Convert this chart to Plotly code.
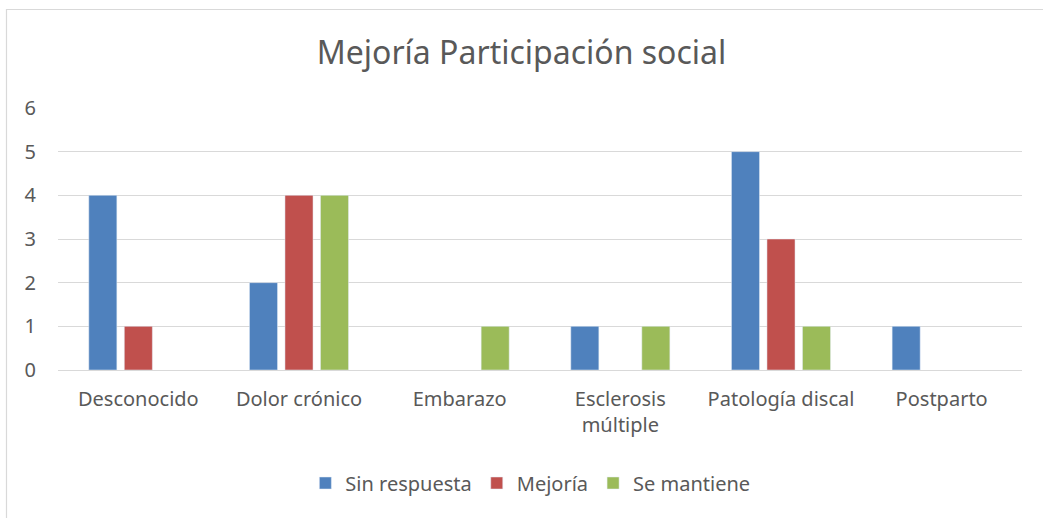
import plotly.graph_objects as go

categories = ["Desconocido", "Dolor crónico", "Embarazo", "Esclerosis<br>múltiple", "Patología discal", "Postparto"]
sin_respuesta = [4, 2, 0, 1, 5, 1]
mejoria = [1, 4, 0, 0, 3, 0]
se_mantiene = [0, 4, 1, 1, 1, 0]
y_ticks = [0, 1, 2, 3, 4, 5, 6]

FONT = "Noto Sans"
TXT = "#595959"


def nz(vals):
    # zero-height bars are not drawn in the reference
    return [v if v != 0 else None for v in vals]


fig = go.Figure()
fig.add_bar(name="Sin respuesta", x=categories, y=nz(sin_respuesta), marker_color="#4F81BD")
fig.add_bar(name="Mejoría", x=categories, y=nz(mejoria), marker_color="#C0504D")
fig.add_bar(name="Se mantiene", x=categories, y=nz(se_mantiene), marker_color="#9BBB59")

W, H = 1043, 518
L, R, T, B = 58, 21, 108, 148
pw = W - L - R
ph = H - T - B


def px_x(x):
    return (x - L) / pw


def px_y(y):
    return (H - B - y) / ph


fig.update_layout(
    width=W, height=H,
    margin=dict(l=L, r=R, t=T, b=B),
    paper_bgcolor="white", plot_bgcolor="white",
    barmode="group", bargap=0.337, bargroupgap=0.21,
    font=dict(family=FONT, color=TXT, size=20),
    title=dict(text="Mejoría Participación social", x=0.5, xanchor="center",
               y=1 - 53 / H, yanchor="middle",
               font=dict(family=FONT, size=32, color=TXT)),
    legend=dict(orientation="h", x=0.49, xanchor="center", y=px_y(483), yanchor="middle",
                font=dict(family=FONT, size=20, color=TXT), itemwidth=30,
                traceorder="normal"),
    xaxis=dict(showgrid=False, showline=False, ticks="", tickfont=dict(size=20, color=TXT),
               ticklabelstandoff=15),
    yaxis=dict(range=[0, 6], tickvals=y_ticks, showgrid=True, gridcolor="#D9D9D9", gridwidth=1,
               zeroline=True, zerolinecolor="#D9D9D9", zerolinewidth=1,
               showline=False, ticks="", tickfont=dict(size=20, color=TXT),
               ticklabelstandoff=21),
    shapes=[
        dict(type="rect", xref="paper", yref="paper",
             x0=px_x(6.5), x1=px_x(1060), y0=px_y(9.5), y1=px_y(540),
             line=dict(color="#D9D9D9", width=1.2), fillcolor="rgba(0,0,0,0)", layer="below"),
    ],
)

fig.write_html("out.html", config={"displayModeBar": False},
               post_script="document.body.style.margin='0';document.body.style.overflow='hidden';")
